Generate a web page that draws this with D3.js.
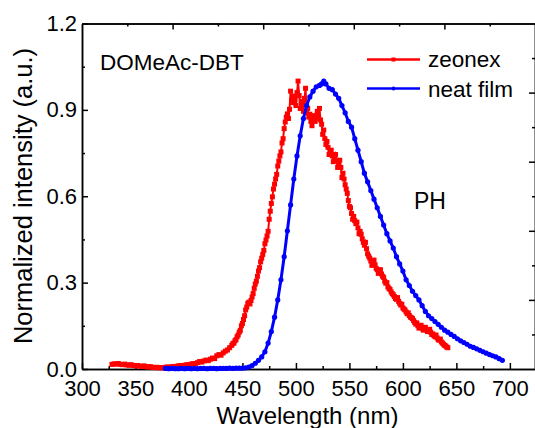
<!DOCTYPE html>
<html lang="en">
<head>
    <meta charset="UTF-8"/>
    <title>DOMeAc-DBT PH spectra</title>
    <script src="https://d3js.org/d3.v7.min.js"></script>
    <style>
        html, body { margin: 0; padding: 0; background: #fff; }
        svg text { font-family: "Liberation Sans", Arial, sans-serif; fill: #000; }
        .axis path, .axis line { stroke: #000; stroke-width: 1.5; }
        .axis text { font-size: 22px; }
    </style>
</head>
<body>
    <div id="chart"></div>
    <script>
        var w = 535;
        var h = 428;

        // axis ticks
        var xTicks = [300, 350, 400, 450, 500, 550, 600, 650, 700];
        var xMinor = [325, 375, 425, 475, 525, 575, 625, 675];
        var yTicks = [0, 0.3, 0.6, 0.9, 1.2];
        var yMinor = [0.15, 0.45, 0.75, 1.05];

        // zeonex PH spectrum [wavelength nm, normalized intensity]
        var zeonex = [
            [328,.016],[330,.018],[332,.017],[334,.019],[336,.016],[338,.015],[340,.017],[342,.014],
            [344,.013],[346,.015],[348,.012],[350,.011],[352,.012],[354,.010],[356,.009],[358,.011],
            [360,.008],[362,.007],[364,.008],[366,.006],[368,.005],[370,.006],[372,.004],[374,.005],
            [376,.004],[378,.006],[380,.007],[382,.006],[384,.008],[386,.009],[388,.008],[390,.011],
            [392,.012],[394,.011],[396,.013],[398,.015],[400,.014],[402,.017],[404,.019],[406,.018],
            [408,.022],[410,.026],[412,.024],[414,.028],[416,.031],[418,.029],[420,.034],[422,.038],
            [424,.036],[426,.046],[428,.050],[430,.048],[432,.056],[434,.062],[436,.066],[438,.074],
            [440,.082],[441,.088],[442,.090],[443,.098],[444,.102],[445,.112],[446,.118],[447,.128],
            [448,.134],[449,.150],[450,.158],[451,.172],[452,.185],[453,.205],[454,.215],[455,.228],
            [456,.232],[457,.226],[458,.238],[459,.250],[460,.262],[461,.280],[462,.295],[463,.305],
            [464,.322],[465,.340],[466,.352],[467,.372],[468,.385],[469,.398],[470,.412],[471,.435],
            [472,.448],[473,.462],[474,.478],[475,.520],[476,.548],[477,.575],[478,.598],[479,.625],
            [480,.642],[481,.660],[482,.676],[483,.705],[484,.722],[485,.740],[486,.754],[487,.785],
            [488,.800],[489,.835],[490,.858],[491,.875],[492,.886],[493,.870],[494,.902],[495,.965],
            [496,.932],[497,.925],[498,.948],[499,.935],[500,.915],[501,.960],[502,1.00],[503,.950],
            [504,.905],[505,.920],[506,.930],[507,.895],[508,.940],[509,.975],[510,.890],[511,.905],
            [512,.875],[513,.885],[514,.860],[515,.845],[516,.870],[517,.880],[518,.860],[519,.875],
            [520,.895],[521,.870],[522,.905],[523,.865],[524,.850],[525,.815],[526,.830],[527,.800],
            [528,.780],[529,.790],[530,.770],[531,.745],[532,.755],[533,.760],[534,.740],[535,.720],
            [536,.735],[537,.745],[538,.725],[539,.700],[540,.710],[541,.725],[542,.700],[543,.665],
            [544,.680],[545,.660],[546,.640],[547,.625],[548,.610],[549,.585],[550,.565],[551,.560],
            [552,.540],[553,.520],[554,.530],[555,.515],[556,.505],[557,.510],[558,.490],[559,.470],
            [560,.478],[561,.468],[562,.452],[563,.440],[564,.430],[565,.440],[566,.418],[567,.400],
            [568,.392],[569,.385],[570,.375],[571,.360],[572,.368],[573,.378],[574,.362],[575,.350],
            [576,.345],[577,.332],[578,.338],[579,.345],[580,.330],[581,.322],[582,.318],[583,.305],
            [584,.298],[585,.300],[586,.285],[587,.280],[588,.276],[589,.268],[590,.262],[591,.258],
            [592,.252],[593,.245],[594,.242],[595,.248],[596,.235],[597,.228],[598,.222],[599,.225],
            [600,.212],[601,.208],[602,.205],[603,.198],[604,.192],[605,.195],[606,.186],[607,.180],
            [608,.178],[609,.175],[610,.168],[611,.162],[612,.156],[613,.160],[614,.150],[615,.142],
            [616,.148],[617,.152],[618,.142],[619,.135],[620,.138],[621,.145],[622,.136],[623,.130],
            [624,.132],[625,.138],[626,.128],[627,.120],[628,.122],[629,.116],[630,.112],[631,.118],
            [632,.108],[633,.102],[634,.100],[635,.104],[636,.094],[637,.090],[638,.086],[639,.082],
            [640,.080],[641,.076],[642,.074]
        ];

        // neat film PH spectrum
        var neatFilm = [
            [378,.002],[381,.001],[384,.002],[387,.001],[390,.001],[393,.002],[396,.001],[399,.002],
            [402,.001],[405,.002],[408,.001],[411,.002],[414,.002],[417,.001],[420,.002],[423,.002],
            [426,.001],[429,.002],[432,.002],[435,.002],[438,.003],[441,.002],[444,.003],[447,.003],
            [450,.003],[453,.004],[456,.007],[459,.012],[462,.020],[465,.030],[468,.042],[471,.060],
            [474,.090],[477,.130],[480,.180],[483,.240],[486,.310],[489,.390],[492,.480],[495,.570],
            [498,.660],[501,.740],[504,.810],[507,.870],[510,.915],[513,.945],[516,.965],[519,.980],
            [522,.985],[524,.990],[526,1.00],[528,.990],[531,.975],[534,.970],[537,.955],[540,.940],
            [543,.915],[546,.890],[549,.860],[552,.840],[555,.800],[558,.760],[561,.720],[564,.680],
            [567,.650],[570,.620],[573,.590],[576,.560],[579,.530],[582,.500],[585,.470],[588,.445],
            [591,.420],[594,.390],[597,.365],[600,.340],[603,.310],[606,.290],[609,.270],[612,.255],
            [615,.240],[618,.220],[621,.200],[624,.185],[627,.175],[630,.165],[633,.155],[636,.145],
            [639,.135],[642,.128],[645,.120],[648,.113],[651,.105],[654,.098],[657,.092],[660,.086],
            [663,.079],[666,.075],[669,.070],[672,.065],[675,.060],[678,.055],[681,.050],[684,.046],
            [687,.042],[690,.036],[693,.030]
        ];

        var svg = d3.select("#chart")
                    .append("svg")
                    .attr("width", w)
                    .attr("height", h);

        var pLeft = 82, pRight = 535, pTop = 23.5, pBottom = 369;

        var x = d3.scaleLinear().domain([300, 723.5]).range([pLeft, pRight]);
        var y = d3.scaleLinear().domain([0, 1.2]).range([pBottom, pTop]);
        // secondary (top/right) axes carry their own tick spacing
        var xTop = d3.scaleLinear().domain([0, 10]).range([pLeft, pRight]);
        var yRight = d3.scaleLinear().domain([0, 10]).range([pBottom, pTop]);

        // bottom axis
        svg.append("g").attr("class", "axis")
            .attr("transform", "translate(0," + pBottom + ")")
            .call(d3.axisBottom(x).tickValues(xMinor)
                .tickSizeInner(-3).tickSizeOuter(0).tickFormat(""));
        svg.append("g").attr("class", "axis")
            .attr("transform", "translate(0," + pBottom + ")")
            .call(d3.axisBottom(x).tickValues(xTicks).tickSizeInner(-6).tickSizeOuter(0)
                .tickPadding(11).tickFormat(d3.format("d")));

        // left axis
        svg.append("g").attr("class", "axis")
            .attr("transform", "translate(" + pLeft + ",0)")
            .call(d3.axisLeft(y).tickValues(yMinor).tickSizeInner(-3).tickSizeOuter(0).tickFormat(""));
        svg.append("g").attr("class", "axis")
            .attr("transform", "translate(" + pLeft + ",0)")
            .call(d3.axisLeft(y).tickValues(yTicks).tickSizeInner(-6).tickSizeOuter(0)
                .tickPadding(5).tickFormat(d3.format(".1f")));

        // top axis
        svg.append("g").attr("class", "axis")
            .attr("transform", "translate(0," + pTop + ")")
            .call(d3.axisTop(xTop).tickValues([1, 3, 5, 7, 9]).tickSizeInner(-3).tickSizeOuter(0).tickFormat(""));
        svg.append("g").attr("class", "axis")
            .attr("transform", "translate(0," + pTop + ")")
            .call(d3.axisTop(xTop).tickValues([2, 4, 6, 8]).tickSizeInner(-6).tickSizeOuter(0).tickFormat(""));

        // right axis
        svg.append("g").attr("class", "axis")
            .attr("transform", "translate(" + pRight + ",0)")
            .call(d3.axisRight(yRight).tickValues([1, 3, 5, 7, 9]).tickSizeInner(-3).tickSizeOuter(0).tickFormat(""));
        svg.append("g").attr("class", "axis")
            .attr("transform", "translate(" + pRight + ",0)")
            .call(d3.axisRight(yRight).tickValues([2, 4, 6, 8]).tickSizeInner(-6).tickSizeOuter(0).tickFormat(""));

        var line = d3.line()
            .x(function(d) { return x(d[0]); })
            .y(function(d) { return y(d[1]); });

        // zeonex (red, squares)
        svg.append("path").datum(zeonex)
            .attr("fill", "none").attr("stroke", "#ff0000").attr("stroke-width", 2)
            .attr("d", line);
        svg.selectAll("rect.zeo")
            .data(zeonex)
            .enter()
            .append("rect")
            .attr("class", "zeo")
            .attr("x", function(d) { return x(d[0]) - 2.5; })
            .attr("y", function(d) { return y(d[1]) - 2.5; })
            .attr("width", 5).attr("height", 5)
            .attr("fill", "#ff0000");

        // neat film (blue, circles)
        svg.append("path").datum(neatFilm)
            .attr("fill", "none").attr("stroke", "#0000ff").attr("stroke-width", 3)
            .attr("d", line);
        svg.selectAll("circle.neat")
            .data(neatFilm)
            .enter()
            .append("circle")
            .attr("class", "neat")
            .attr("cx", function(d) { return x(d[0]); })
            .attr("cy", function(d) { return y(d[1]); })
            .attr("r", 2.6)
            .attr("fill", "#0000ff");

        // legend
        svg.append("line").attr("x1", 367).attr("x2", 420).attr("y1", 59.5).attr("y2", 59.5)
            .attr("stroke", "#ff0000").attr("stroke-width", 2.5);
        svg.append("rect").attr("x", 391.5).attr("y", 57.5).attr("width", 4).attr("height", 4)
            .attr("fill", "#ff0000");
        svg.append("text").attr("x", 428).attr("y", 67).attr("font-size", 22.5).text("zeonex");

        svg.append("line").attr("x1", 367).attr("x2", 420).attr("y1", 88.5).attr("y2", 88.5)
            .attr("stroke", "#0000ff").attr("stroke-width", 2.5);
        svg.append("circle").attr("cx", 393.5).attr("cy", 88.5).attr("r", 2)
            .attr("fill", "#0000ff");
        svg.append("text").attr("x", 428).attr("y", 97).attr("font-size", 22.5).text("neat film");

        // annotations
        svg.append("text").attr("x", 100).attr("y", 69.5).attr("font-size", 22.5).text("DOMeAc-DBT");
        svg.append("text").attr("x", 414).attr("y", 208.5).attr("font-size", 23).text("PH");

        // axis titles
        svg.append("text").attr("x", 307.5).attr("y", 424)
            .attr("text-anchor", "middle").attr("font-size", 24)
            .text("Wavelength (nm)");
        svg.append("text")
            .attr("transform", "translate(32,196) rotate(-90)")
            .attr("text-anchor", "middle").attr("font-size", 25.5)
            .text("Normalized intensity (a.u.)");
    </script>
</body>
</html>
